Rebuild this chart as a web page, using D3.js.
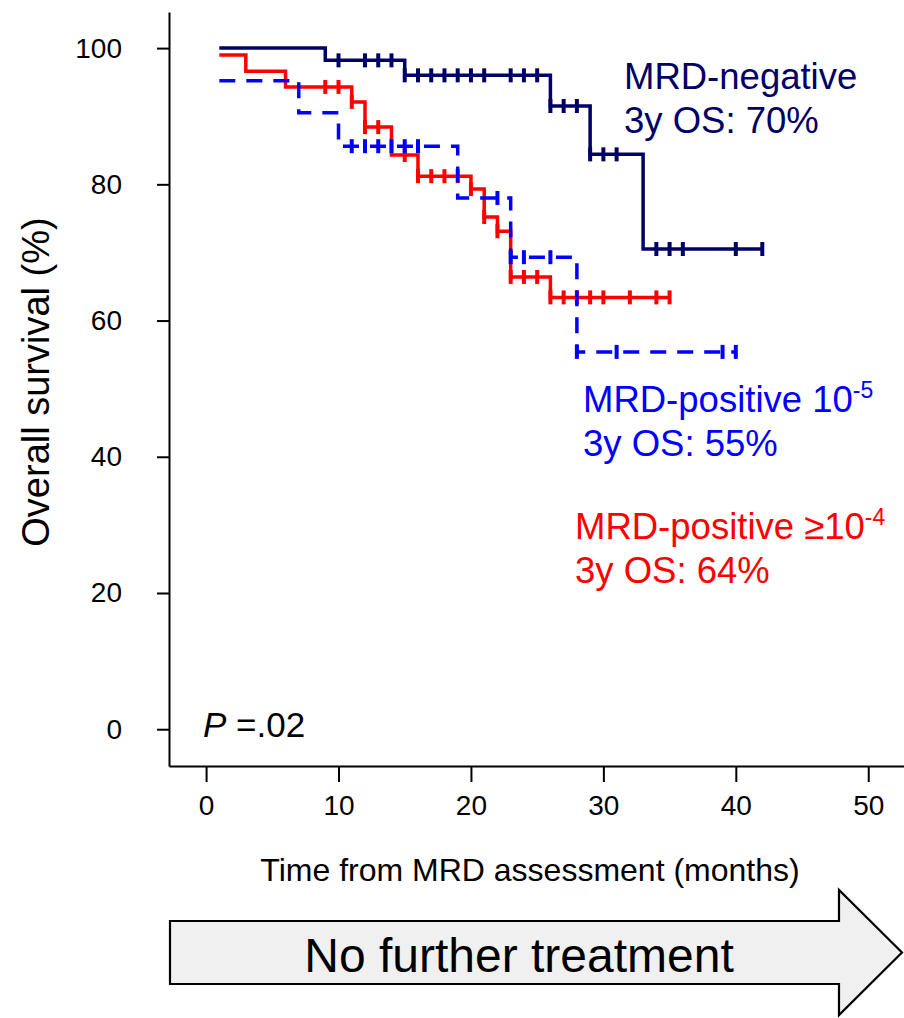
<!DOCTYPE html>
<html>
<head>
<meta charset="utf-8">
<script src="https://cdn.jsdelivr.net/npm/d3@7"></script>
<style>
  html, body { margin: 0; padding: 0; background: #ffffff; }
  svg { display: block; font-family: "Liberation Sans", Arial, Helvetica, sans-serif; }
</style>
</head>
<body>
<svg id="chart" width="904" height="1018"></svg>
<script>
// ---------------- DATA ----------------
const xTicks = [0, 10, 20, 30, 40, 50];
const yTicks = [0, 20, 40, 60, 80, 100];

// MRD-negative (navy)
const negTimes = [1, 9, 15, 26, 29, 33];
const negSurv  = [100, 98.2, 96.0, 91.5, 84.4, 70.5];
const negEnd   = 42;
const negCensor = [10, 12, 13, 14, 15, 16, 17, 18, 19, 20, 21, 23, 24, 25, 26, 27, 28, 29, 30, 31, 34, 35, 36, 40, 42];

// MRD-positive >=10^-4 (red)
const redTimes = [1, 3, 6, 11, 12, 14, 16, 20, 21, 22, 23, 26];
const redSurv  = [99.0, 96.6, 94.3, 92.1, 88.4, 84.3, 81.2, 79.3, 75.2, 73.1, 66.4, 63.4];
const redEnd   = 35;
const redCensor = [9, 10, 11, 12, 13, 15, 16, 17, 18, 19, 20, 21, 22, 23, 24, 25, 26, 27, 28, 29, 30, 32, 34, 35];

// MRD-positive 10^-5 (blue, dashed)
const bluTimes = [1, 7, 10, 19, 23, 28];
const bluSurv  = [95.2, 90.5, 85.6, 78.0, 69.3, 55.4];
const bluEnd   = 40;
const bluCensor = [11, 12, 13, 14, 15, 16, 22, 23, 24, 26, 28, 31, 39, 40];

const colNeg = "#000066", colRed = "#ff0000", colBlu = "#0000ff";

// ---------------- CHART ----------------
const svg = d3.select("#chart");
const FONT = '"Liberation Sans", Arial, Helvetica, sans-serif';

const x = d3.scaleLinear().domain([-2.8, 52.7]).range([169, 904]);
const y = d3.scaleLinear().domain([-5.4, 105.3]).range([766, 12]);

// axes
const gx = svg.append("g").attr("transform", `translate(0,${y(-5.4)})`)
  .call(d3.axisBottom(x).tickValues(xTicks).tickSize(16).tickPadding(13).tickSizeOuter(0));
const gy = svg.append("g").attr("transform", `translate(${x(-2.8)},0)`)
  .call(d3.axisLeft(y).tickValues(yTicks).tickSize(12).tickPadding(35).tickSizeOuter(0));
[gx, gy].forEach(g => {
  g.select(".domain").attr("stroke", "#000").attr("stroke-width", 2);
  g.selectAll(".tick line").attr("stroke", "#000").attr("stroke-width", 2);
  g.selectAll(".tick text").attr("fill", "#000").style("font-size", "28px").style("font-family", FONT);
});

// axis titles
svg.append("text")
  .attr("transform", "translate(49,382) rotate(-90)")
  .attr("text-anchor", "middle")
  .style("font-size", "38px")
  .text("Overall survival (%)");

svg.append("text")
  .attr("x", 530).attr("y", 881)
  .attr("text-anchor", "middle")
  .style("font-size", "32px")
  .text("Time from MRD assessment (months)");

// arrow
const arrowPts = [[170, 921], [839, 921], [839, 890], [902, 952.5], [839, 1015], [839, 984], [170, 984]];
svg.append("path")
  .attr("d", d3.line()(arrowPts) + "Z")
  .attr("fill", "#f0f0f0").attr("stroke", "#000").attr("stroke-width", 2.2);
svg.append("text")
  .attr("x", 519).attr("y", 972)
  .attr("text-anchor", "middle")
  .style("font-size", "48px")
  .text("No further treatment");

// curves
function stepPoints(times, surv, end) {
  const pts = times.map((t, i) => [t, surv[i]]);
  pts.push([end, surv[surv.length - 1]]);
  return pts;
}
function survAt(times, surv, t) {
  let s = surv[0];
  for (let i = 0; i < times.length; i++) if (times[i] <= t) s = surv[i];
  return s;
}
const line = d3.line().x(d => x(d[0])).y(d => y(d[1])).curve(d3.curveStepAfter);

function drawCurve(times, surv, end, censor, color, dash) {
  const g = svg.append("g");
  g.append("path")
    .attr("d", line(stepPoints(times, surv, end)))
    .attr("fill", "none").attr("stroke", color).attr("stroke-width", 3.5)
    .attr("stroke-dasharray", dash || null);
  g.selectAll("line.c").data(censor).join("line")
    .attr("x1", d => x(d)).attr("x2", d => x(d))
    .attr("y1", d => y(survAt(times, surv, d)) - 7)
    .attr("y2", d => y(survAt(times, surv, d)) + 7)
    .attr("stroke", color).attr("stroke-width", 4);
}
drawCurve(negTimes, negSurv, negEnd, negCensor, colNeg);
drawCurve(redTimes, redSurv, redEnd, redCensor, colRed);
drawCurve(bluTimes, bluSurv, bluEnd, bluCensor, colBlu, "16,11");

// legend labels
function label(xp, yp, color, parts, line2) {
  const t = svg.append("text").attr("x", xp).attr("y", yp).attr("fill", color).style("font-size", "36.5px");
  parts.forEach(p => {
    if (p.sup) t.append("tspan").attr("dy", -14).style("font-size", "23px").text(p.sup);
    else t.append("tspan").text(p.t);
  });
  svg.append("text").attr("x", xp).attr("y", yp + 44).attr("fill", color).style("font-size", "36.5px").text(line2);
}
label(624, 89, colNeg, [{t: "MRD-negative"}], "3y OS: 70%");
label(583, 412, colBlu, [{t: "MRD-positive 10"}, {sup: "-5"}], "3y OS: 55%");
label(575, 539, colRed, [{t: "MRD-positive \u226510"}, {sup: "-4"}], "3y OS: 64%");

// P value
const pt = svg.append("text").attr("x", 203).attr("y", 737).style("font-size", "35px");
pt.append("tspan").style("font-style", "italic").text("P");
pt.append("tspan").text(" =.02");
</script>
</body>
</html>
